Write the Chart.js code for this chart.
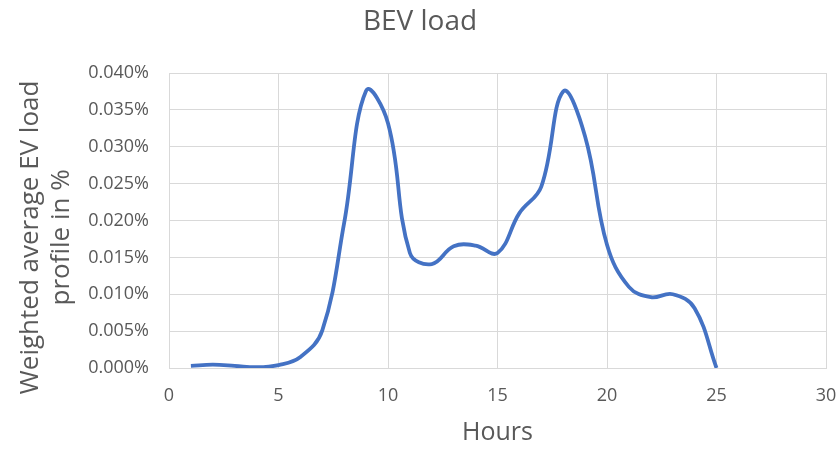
<!DOCTYPE html>
<html>
<head>
<meta charset="utf-8">
<script src="https://cdn.jsdelivr.net/npm/chart.js@4/dist/chart.umd.min.js"></script>
<style>
  html, body { margin: 0; padding: 0; background: #ffffff; }
  #wrap { width: 840px; height: 450px; }
</style>
</head>
<body>
<div id="wrap"><canvas id="c" width="840" height="450"></canvas></div>
<script>
// Hour of day
const hours = [1, 2, 3, 4, 5, 6, 7, 8, 9, 10, 11, 12, 13, 14, 15, 16, 17, 18, 19, 20, 21, 22, 23, 24, 25];
// Weighted average BEV load profile, in percent
const loadPct = [0.0003, 0.00045, 0.0003, 0.0001, 0.0004, 0.0015, 0.0051, 0.0197, 0.0376, 0.0332,
                 0.0156, 0.0141, 0.0165, 0.0166, 0.0156, 0.0210, 0.0246, 0.0375, 0.0314, 0.0167,
                 0.0110, 0.0096, 0.0100, 0.0081, 0.0000];
const xTicks = { min: 0, max: 30, step: 5 };
const yTicks = { min: 0, max: 0.04, step: 0.005 };

const FONT = "'Open Sans', 'Liberation Sans', sans-serif";
const TEXT = '#595959';
const GRID = '#d9d9d9';

new Chart(document.getElementById('c'), {
  type: 'line',
  data: {
    datasets: [{
      label: 'BEV load',
      data: hours.map((h, i) => ({ x: h, y: loadPct[i] })),
      borderColor: '#4472C4',
      borderWidth: 3.8,
      pointRadius: 0,
      tension: 0.4,
      fill: false
    }]
  },
  options: {
    responsive: false,
    animation: false,
    layout: { padding: { left: 0, right: 0, top: 0, bottom: 0 } },
    plugins: {
      legend: { display: false },
      tooltip: { enabled: false },
      title: {
        display: true,
        text: 'BEV load',
        color: TEXT,
        font: { family: FONT, size: 28, weight: 'normal', lineHeight: 1.2 },
        padding: { top: 5, bottom: 34.4 }
      }
    },
    scales: {
      x: {
        type: 'linear',
        min: xTicks.min,
        max: xTicks.max,
        ticks: {
          stepSize: xTicks.step,
          color: TEXT,
          font: { family: FONT, size: 18, lineHeight: 1.2 },
          padding: 17
        },
        grid: { color: GRID, lineWidth: 1, drawTicks: false },
        border: { color: GRID },
        title: {
          display: true,
          text: 'Hours',
          color: TEXT,
          font: { family: FONT, size: 25, lineHeight: 1.2 },
          padding: { top: 0, bottom: 2 }
        },
        afterFit: s => { s.height = 82; s.paddingRight = 14; }
      },
      y: {
        min: yTicks.min,
        max: yTicks.max,
        ticks: {
          stepSize: yTicks.step,
          color: TEXT,
          font: { family: FONT, size: 18 },
          padding: 20,
          callback: v => v.toFixed(3) + '%'
        },
        grid: { color: GRID, lineWidth: 1, drawTicks: false },
        border: { color: GRID },
        title: {
          display: true,
          text: ['Weighted average EV load     ', 'profile in %     '],
          color: TEXT,
          font: { family: FONT, size: 26, lineHeight: 1.2 },
          padding: { top: 15, bottom: 0 }
        },
        afterFit: s => { s.width = 169; }
      }
    }
  }
});
</script>
</body>
</html>
